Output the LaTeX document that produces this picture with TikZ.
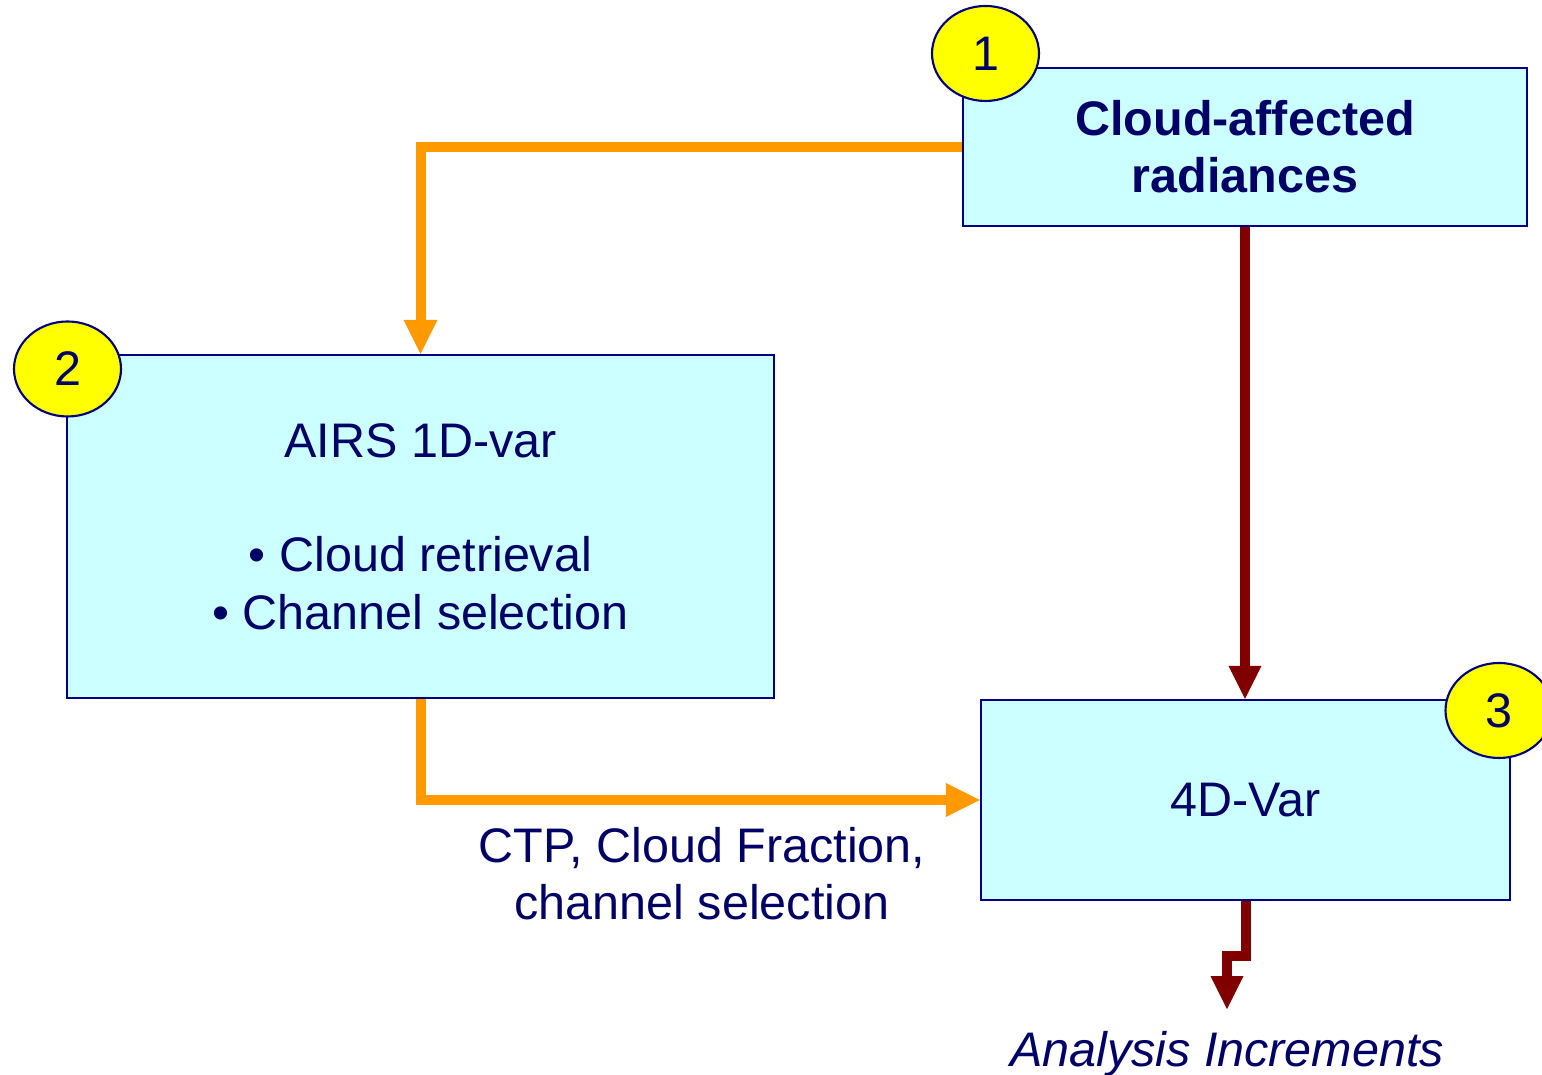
\documentclass[tikz,border=0pt]{standalone}
\usepackage{fontspec}
\setmainfont{Liberation Sans}
\usepackage{xcolor}
\usepackage{tikz}
\usetikzlibrary{arrows.meta}
\usetikzlibrary{shapes.geometric}
\usetikzlibrary{positioning}

\definecolor{navytext}{RGB}{0,0,102}
\definecolor{navyline}{RGB}{0,0,128}
\definecolor{boxfill}{RGB}{204,255,255}
\definecolor{badgefill}{RGB}{255,255,0}
\definecolor{feedorange}{RGB}{255,153,0}
\definecolor{flowred}{RGB}{128,0,0}

\begin{document}
\begin{tikzpicture}[
  every node/.style={font=\fontsize{13.8}{16.3}\selectfont, text=navytext},
  infobox/.style={rectangle, draw=navyline, line width=0.6pt, fill=boxfill, align=center, inner sep=0pt},
  badge/.style={ellipse, draw=navyline, line width=0.6pt, fill=badgefill, inner sep=0pt, minimum width=1.07cm, minimum height=0.95cm},
  feed/.style={draw=feedorange, line width=0.1cm, -{Triangle[width=0.34cm, length=0.34cm, line width=0pt]}},
  flow/.style={draw=flowred, line width=0.1cm, -{Triangle[width=0.33cm, length=0.33cm, line width=0pt]}}
]
 \useasboundingbox (0, 0) rectangle (15.42, 10.75);
 \node [infobox, minimum width=5.64cm, minimum height=1.58cm, font=\fontsize{13.8}{16.3}\selectfont\bfseries] (cloud) at (12.45, 9.28) {Cloud-affected\\radiances};
 \node [infobox, minimum width=7.07cm, minimum height=3.43cm] (airs) at (4.205, 5.485) {AIRS 1D-var\\[16.3pt] \textbullet{} Cloud retrieval\\ \textbullet{} Channel selection};
 \node [infobox, minimum width=5.29cm, minimum height=2.00cm] (var4d) at (12.455, 2.75) {4D-Var};
 \node [badge] (one) at (9.855, 10.215) {1};
 \node [badge] (two) at (0.675, 7.06) {2};
 \node [badge] (three) at (14.99, 3.645) {3};
 \node [align=center, inner sep=0pt] (ctp) at (7.02, 2.01) {CTP, Cloud Fraction,\\channel selection};
 \node [anchor=base, inner sep=0pt, font=\fontsize{13.8}{16.3}\selectfont\itshape] (incr) at (12.27, 0.08) {Analysis Increments};
 \draw [feed] (cloud.west) -| (airs.north);
 \draw [feed] (airs.south) |- (var4d.west);
 \draw [flow] (cloud.south) -- (cloud.south |- var4d.north);
 \draw [flow, shorten >=0.22cm] (var4d.south) -- ++(0, -0.55) -| (incr.north);
\end{tikzpicture}
\end{document}
